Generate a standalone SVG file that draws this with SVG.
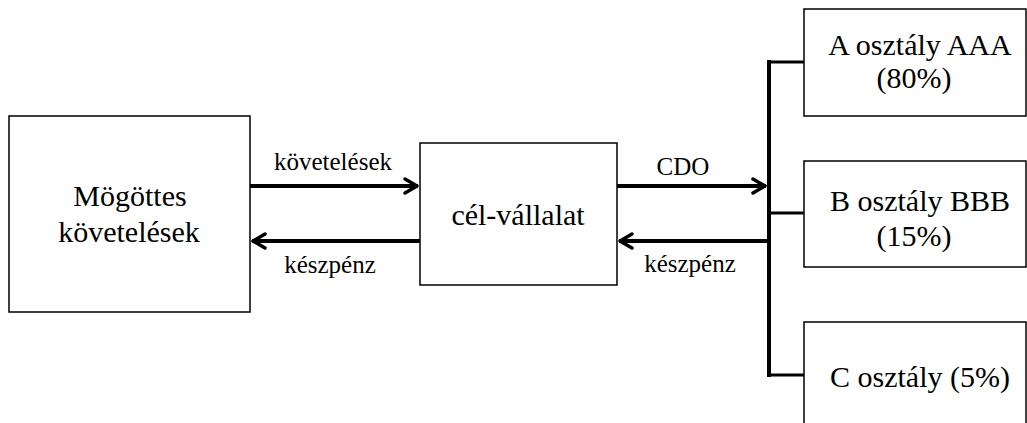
<svg xmlns="http://www.w3.org/2000/svg" width="1027" height="423" viewBox="0 0 1027 423">
<style>
.box{fill:#fff;stroke:#000;stroke-width:1.5}
.t{font-family:'Times New Roman',Times,'Liberation Serif','DejaVu Serif','Noto Serif',serif;font-size:30px;fill:#000;text-anchor:middle}
.l{font-family:'Times New Roman',Times,'Liberation Serif','DejaVu Serif','Noto Serif',serif;font-size:25px;fill:#000;text-anchor:middle}
.arr{stroke:#000;stroke-width:4;fill:none}
.bus{stroke:#000;stroke-width:4;fill:none}
.br{stroke:#000;stroke-width:3;fill:none}
</style>
<defs>
<marker id="ah" viewBox="-18 -10 20 20" markerWidth="20" markerHeight="20" refX="0" refY="0" orient="auto" markerUnits="userSpaceOnUse">
<path d="M-13,-7 L-1,0 L-13,7" fill="none" stroke="#000" stroke-width="3.5" stroke-linejoin="round" stroke-linecap="round"/>
</marker>
</defs>
<rect width="1027" height="423" fill="#fff"/>
<g id="connectors">
<line class="arr" x1="250" y1="186" x2="418" y2="186" marker-end="url(#ah)"/>
<line class="arr" x1="420" y1="241" x2="252" y2="241" marker-end="url(#ah)"/>
<line class="arr" x1="617" y1="186" x2="766" y2="186" marker-end="url(#ah)"/>
<line class="arr" x1="769" y1="241" x2="619" y2="241" marker-end="url(#ah)"/>
<line class="bus" x1="769" y1="60" x2="769" y2="377"/>
<polyline class="br" points="767,62 804,62"/>
<polyline class="br" points="769,213 804,213"/>
<polyline class="br" points="767,375 804,375"/>
<text class="l" x="333" y="170">követelések</text>
<text class="l" x="330" y="273">készpénz</text>
<text class="l" x="683" y="175">CDO</text>
<text class="l" x="690" y="272">készpénz</text>
</g>
<g id="node-underlying">
<rect class="box" x="9" y="116" width="241" height="196"/>
<text class="t" x="130" y="206">Mögöttes</text>
<text class="t" x="129" y="242">követelések</text>
</g>
<g id="node-spv">
<rect class="box" x="420" y="143" width="197" height="142"/>
<text class="t" x="518" y="225">cél-vállalat</text>
</g>
<g id="node-a">
<rect class="box" x="804" y="9" width="222" height="107"/>
<text class="t" x="920" y="55">A osztály AAA</text>
<text class="t" x="914" y="88">(80%)</text>
</g>
<g id="node-b">
<rect class="box" x="804" y="161" width="222" height="106"/>
<text class="t" x="920" y="211">B osztály BBB</text>
<text class="t" x="914" y="246">(15%)</text>
</g>
<g id="node-c">
<rect class="box" x="804" y="322" width="222" height="110"/>
<text class="t" x="920" y="387">C osztály (5%)</text>
</g>
</svg>
